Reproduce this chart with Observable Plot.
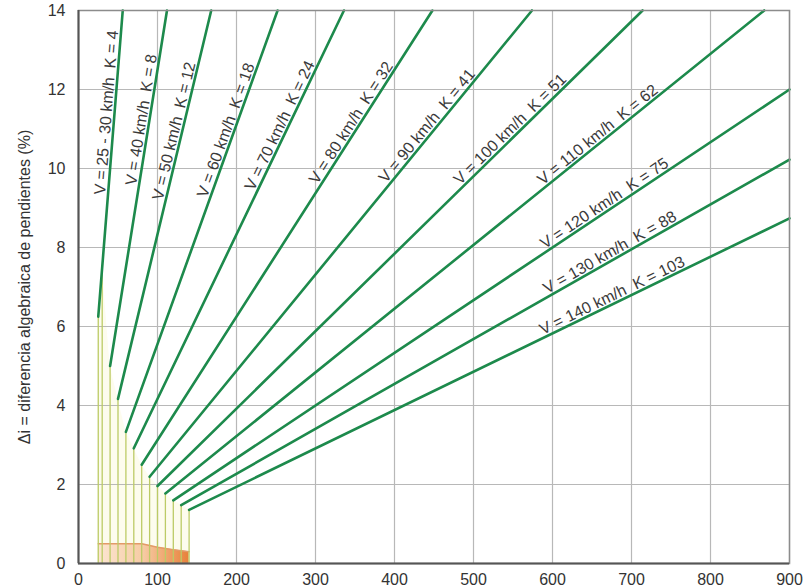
<!DOCTYPE html>
<html>
<head>
<meta charset="utf-8">
<script src="https://cdn.jsdelivr.net/npm/d3@7"></script>
<script src="https://cdn.jsdelivr.net/npm/@observablehq/plot@0.6"></script>
<style>
  html, body { margin: 0; padding: 0; background: #fff; overflow: hidden; }
  #wrap { position: relative; width: 806px; height: 588px; overflow: hidden; }
  #title { position: absolute; left: 92px; top: -23px; font: italic bold 21px "Liberation Sans", Arial, sans-serif; color: #222; white-space: nowrap; }
  #chart { position: absolute; left: 0; top: 0; }
</style>
</head>
<body>
<div id="wrap">
  <div id="title">Longitudes mínimas según pendientes</div>
  <div id="chart"></div>
</div>
<script>
// Design speeds and K values for each curve
const speeds = ["25 - 30", "40", "50", "60", "70", "80", "90", "100", "110", "120", "130", "140"];
const kValues = [4, 8, 12, 18, 24, 32, 41, 51, 62, 75, 88, 103];
const minLengths = [25, 40, 50, 60, 70, 80, 90, 100, 110, 120, 130, 140];
// vertical guide lines (minimum length marks) and the K of the curve they reach
const guideX = [25, 30, 40, 50, 60, 70, 80, 90, 100, 110, 120, 130, 140];
const guideK = [4, 4, 8, 12, 18, 24, 32, 41, 51, 62, 75, 88, 103];
// orange band at the bottom
const bandX = [25, 80, 100, 120, 140];
const bandY = [0.5, 0.5, 0.41, 0.35, 0.3];
// where each label sits along its line (Δi value)
const labelAt = [11.4, 11.2, 10.9, 10.9, 11.0, 11.05, 10.95, 10.85, 10.7, 8.95, 7.7, 6.6];
const xTicks = [0, 100, 200, 300, 400, 500, 600, 700, 800, 900];
const yTicks = [0, 2, 4, 6, 8, 10, 12, 14];
const yTitle = "Δi = diferencia algebraica de pendientes (%)";

const W = 806, H = 588, ML = 78, MR = 17, MT = 10, MB = 25;
const xMax = 900, yMax = 14;
const xppu = (W - ML - MR) / xMax, yppu = (H - MT - MB) / yMax;
const OFF = 8;

const lines = [];
kValues.forEach((k, i) => {
  const x0 = minLengths[i];
  const x1 = Math.min(xMax, yMax * k);
  lines.push({k, x: x0, y: x0 / k});
  lines.push({k, x: x1, y: x1 / k});
});
const guides = guideX.map((x, i) => ({x, y1: 0, y2: x / guideK[i]}));
const band = bandX.map((x, i) => ({x, y: bandY[i]}));

const labelMarks = kValues.map((k, i) => {
  const theta = Math.atan(yppu / xppu / k);
  return Plot.text([{x: k * labelAt[i], y: labelAt[i]}], {
    x: "x", y: "y",
    text: () => `V = ${speeds[i]} km/h\u00a0\u00a0K = ${k}`,
    rotate: -theta * 180 / Math.PI,
    dx: -OFF * Math.sin(theta), dy: -OFF * Math.cos(theta),
    textAnchor: "middle", lineAnchor: "middle", fontSize: 16, fill: "#3a3a3a"
  });
});

const chart = Plot.plot({
  width: W, height: H,
  marginLeft: ML, marginRight: MR, marginTop: MT, marginBottom: MB,
  style: {fontFamily: '"Liberation Sans", Arial, sans-serif', fontSize: "16px", color: "#333", background: "transparent"},
  x: {domain: [0, xMax], ticks: xTicks},
  y: {domain: [0, yMax], ticks: yTicks},
  marks: [
    Plot.areaY(guides, {x: "x", y1: "y1", y2: "y2", fill: "#fdfcee"}),
    Plot.gridX(xTicks, {stroke: "#b8b8b8", strokeOpacity: 1, strokeWidth: 1.2}),
    Plot.gridY(yTicks, {stroke: "#b8b8b8", strokeOpacity: 1, strokeWidth: 1.2}),
    Plot.areaY(band, {x: "x", y: "y", fill: "url(#orangeGrad)"}),
    Plot.line(band, {x: "x", y: "y", stroke: "#e39a68", strokeWidth: 1.5}),
    Plot.ruleX(guides, {x: "x", y1: "y1", y2: "y2", stroke: "#bccb66", strokeWidth: 1.3}),
    Plot.line(lines, {x: "x", y: "y", z: "k", stroke: "#1d8a4c", strokeWidth: 2.6}),
    ...labelMarks,
    Plot.frame({stroke: "#8c8c8c", strokeWidth: 1.5}),
    Plot.ruleX([0], {stroke: "#555", strokeWidth: 2}),
    Plot.ruleY([0], {stroke: "#555", strokeWidth: 2}),
    Plot.axisX({ticks: xTicks, tickSize: 0, tickPadding: 10, label: null, fontSize: 16}),
    Plot.axisY({ticks: yTicks, tickSize: 0, tickPadding: 13, fontSize: 16, label: null}),
    Plot.text([yTitle], {text: d => d, frameAnchor: "left", rotate: -90, dx: -54, fontSize: 16, fill: "#333", textAnchor: "middle"})
  ]
});

const svg = d3.select(chart);
const defs = svg.insert("defs", ":first-child");
const grad = defs.append("linearGradient").attr("id", "orangeGrad").attr("x1", "0").attr("x2", "1").attr("y1", "0").attr("y2", "0");
grad.append("stop").attr("offset", "0%").attr("stop-color", "#fce6d2");
grad.append("stop").attr("offset", "50%").attr("stop-color", "#f6cba4");
grad.append("stop").attr("offset", "100%").attr("stop-color", "#e8813a");
document.getElementById("chart").appendChild(chart);
</script>
</body>
</html>
